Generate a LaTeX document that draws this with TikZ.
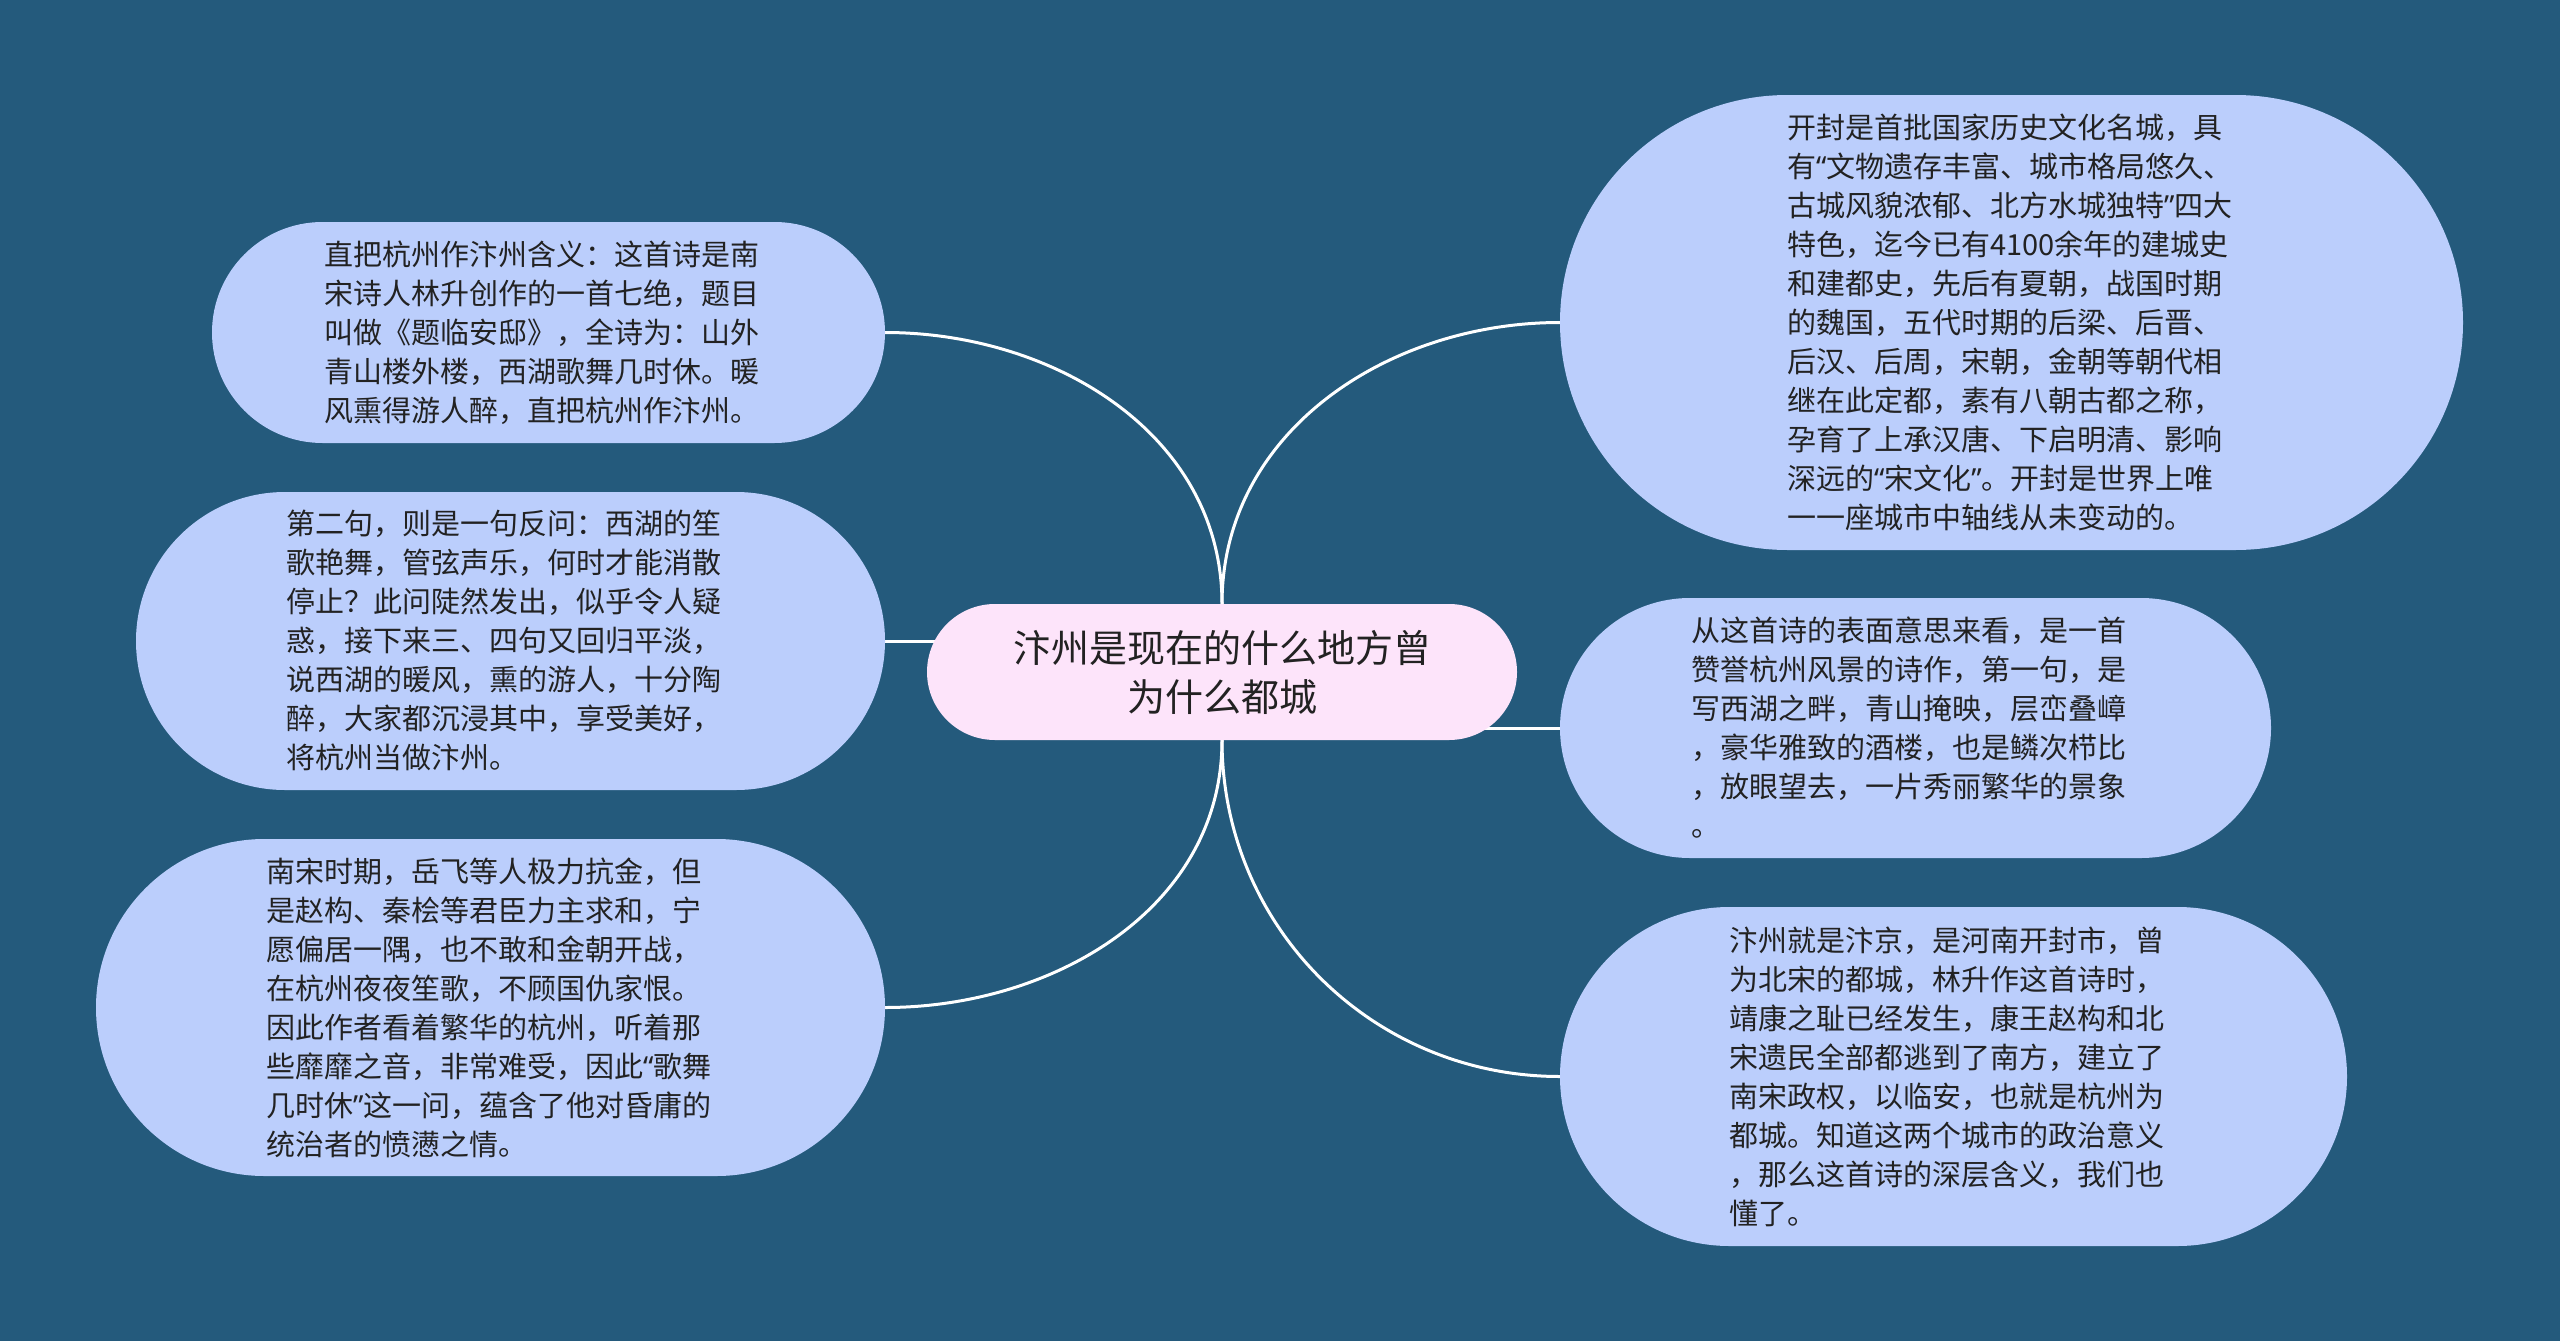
\documentclass[tikz,border=0pt]{standalone}
\usepackage{fontspec}
\newfontfamily\cjk{Noto Sans CJK SC}
\newfontfamily\latn{Noto Sans}
\newcommand\myoq{{\latn “}}
\newcommand\mycq{{\latn ”}}
\usetikzlibrary{shapes.misc}
\definecolor{bgc}{RGB}{36,90,124}
\definecolor{leaf}{RGB}{187,206,252}
\definecolor{rootc}{RGB}{253,228,250}
\definecolor{txt}{RGB}{34,34,34}
\pgfdeclarelayer{back}
\pgfdeclarelayer{links}
\pgfsetlayers{back,links,main}
\begin{document}
\begin{tikzpicture}[x=1pt,y=-1pt,
  leafbox/.style={rounded rectangle, fill=leaf, inner sep=0pt, align=left, text=txt,
    text width=449pt, font=\cjk\fontsize{29}{39}\selectfont},
  rootbox/.style={rounded rectangle, fill=rootc, inner sep=0pt, align=center, text=txt,
    font=\cjk\fontsize{38}{49}\selectfont},
  link/.style={draw=white, line width=3pt}]
\begin{pgfonlayer}{back}
\fill[bgc] (0,0) rectangle (2560,1341);
\end{pgfonlayer}
\useasboundingbox (0,0) rectangle (2560,1341);

\node[rootbox, minimum width=590pt, minimum height=136pt] (c) at (1222,672)
  {汴州是现在的什么地方曾\\为什么都城};

\node[leafbox, minimum width=673pt, minimum height=221pt] (tl) at (548.5,332.5)
  {直把杭州作汴州含义：这首诗是南\\
宋诗人林升创作的一首七绝，题目\\
叫做《题临安邸》，全诗为：山外\\
青山楼外楼，西湖歌舞几时休。暖\\
风熏得游人醉，直把杭州作汴州。};

\node[leafbox, minimum width=749pt, minimum height=298pt] (ml) at (510.5,641)
  {第二句，则是一句反问：西湖的笙\\
歌艳舞，管弦声乐，何时才能消散\\
停止？此问陡然发出，似乎令人疑\\
惑，接下来三、四句又回归平淡，\\
说西湖的暖风，熏的游人，十分陶\\
醉，大家都沉浸其中，享受美好，\\
将杭州当做汴州。};

\node[leafbox, minimum width=789pt, minimum height=337pt] (bl) at (490.5,1007.5)
  {南宋时期，岳飞等人极力抗金，但\\
是赵构、秦桧等君臣力主求和，宁\\
愿偏居一隅，也不敢和金朝开战，\\
在杭州夜夜笙歌，不顾国仇家恨。\\
因此作者看着繁华的杭州，听着那\\
些靡靡之音，非常难受，因此\myoq 歌舞\\
几时休\mycq 这一问，蕴含了他对昏庸的\\
统治者的愤懑之情。};

\node[leafbox, minimum width=903pt, minimum height=455pt] (tr) at (2011.5,322.5)
  {开封是首批国家历史文化名城，具\\
有\myoq 文物遗存丰富、城市格局悠久、\\
古城风貌浓郁、北方水城独特\mycq 四大\\
特色，迄今已有4100余年的建城史\\
和建都史，先后有夏朝，战国时期\\
的魏国，五代时期的后梁、后晋、\\
后汉、后周，宋朝，金朝等朝代相\\
继在此定都，素有八朝古都之称，\\
孕育了上承汉唐、下启明清、影响\\
深远的\myoq 宋文化\mycq 。开封是世界上唯\\
一一座城市中轴线从未变动的。};

\node[leafbox, minimum width=711pt, minimum height=260pt] (mr) at (1915.5,728)
  {从这首诗的表面意思来看，是一首\\
赞誉杭州风景的诗作，第一句，是\\
写西湖之畔，青山掩映，层峦叠嶂\\
，豪华雅致的酒楼，也是鳞次栉比\\
，放眼望去，一片秀丽繁华的景象\\
。};

\node[leafbox, minimum width=787pt, minimum height=339pt] (br) at (1953.5,1076.5)
  {汴州就是汴京，是河南开封市，曾\\
为北宋的都城，林升作这首诗时，\\
靖康之耻已经发生，康王赵构和北\\
宋遗民全部都逃到了南方，建立了\\
南宋政权，以临安，也就是杭州为\\
都城。知道这两个城市的政治意义\\
，那么这首诗的深层含义，我们也\\
懂了。};

\begin{pgfonlayer}{links}
\draw[link] (tl.east) .. controls +(169,0) and +(0,-169) .. (c.north);
\draw[link] (tr.west) .. controls +(-172,0) and +(0,-172) .. (c.north);
\draw[link] (bl.east) .. controls +(168,0) and +(0,168) .. (c.south);
\draw[link] (br.west) .. controls +(-187,0) and +(0,187) .. (c.south);
\draw[link] (ml.east) -- (c.center |- ml.east);
\draw[link] (mr.west) -- (c.center |- mr.west);
\end{pgfonlayer}
\end{tikzpicture}
\end{document}
